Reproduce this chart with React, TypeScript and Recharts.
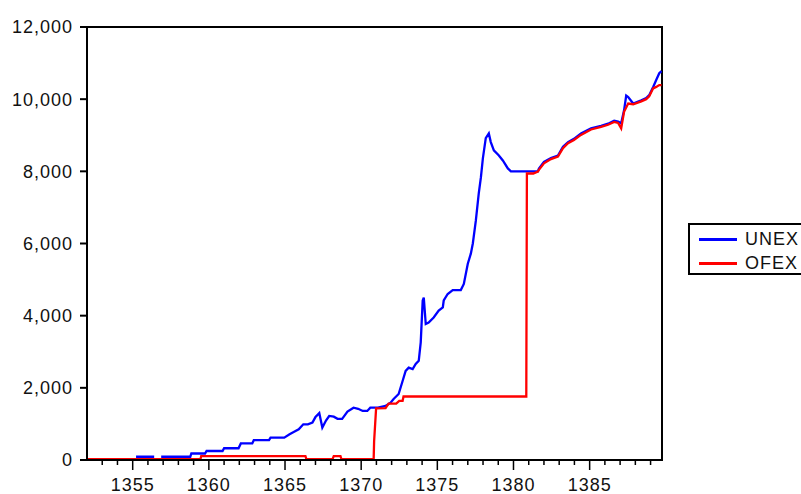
import React from 'react';
import { LineChart, Line, XAxis, YAxis, ReferenceArea, Legend } from 'recharts';

const unexYears = [
  1355.22, 1356.41, 1356.6, 1356.87, 1358.78, 1358.85, 1359.75, 1359.85, 1360.9, 1361.0,
  1361.95, 1362.1, 1362.85, 1362.95, 1363.95, 1364.05, 1364.95, 1365.3, 1365.6, 1365.9,
  1366.2, 1366.5, 1366.8, 1367.0, 1367.25, 1367.45, 1367.7, 1367.9, 1368.2, 1368.45,
  1368.75, 1369.1, 1369.5, 1369.8, 1370.1, 1370.4, 1370.6, 1371.1, 1371.6, 1371.93,
  1372.13, 1372.46, 1372.72, 1372.92, 1373.12, 1373.38, 1373.58, 1373.78, 1373.91, 1374.04,
  1374.11, 1374.24, 1374.43, 1374.76, 1375.09, 1375.36, 1375.42, 1375.68, 1376.01, 1376.54,
  1376.74, 1377.0, 1377.2, 1377.33, 1377.53, 1377.72, 1377.86, 1377.99, 1378.18, 1378.38,
  1378.51, 1378.71, 1379.04, 1379.3, 1379.63, 1379.83, 1381.6, 1381.67, 1382.0, 1382.46,
  1382.92, 1383.25, 1383.58, 1383.97, 1384.43, 1385.09, 1385.75, 1386.21, 1386.61, 1386.87,
  1387.07, 1387.26, 1387.4, 1387.53, 1387.86, 1388.39, 1388.71, 1388.91, 1389.17, 1389.37,
  1389.57, 1389.72,
];
const unexValues: (number | null)[] = [
  90, 90, null, 90, 90, 180, 180, 250, 250, 325,
  325, 460, 460, 550, 550, 620, 620, 713, 780, 850,
  990, 990, 1040, 1190, 1300, 900, 1100, 1220, 1200, 1140,
  1140, 1340, 1450, 1420, 1360, 1360, 1450, 1450, 1500, 1590,
  1690, 1830, 2190, 2470, 2560, 2520, 2660, 2750, 3260, 4420,
  4500, 3770, 3810, 3950, 4140, 4230, 4420, 4600, 4710, 4710,
  4880, 5440, 5720, 6000, 6640, 7390, 7830, 8360, 8920, 9050,
  8810, 8580, 8440, 8300, 8080, 8000, 8000, 8080, 8260, 8370,
  8440, 8680, 8810, 8900, 9050, 9190, 9260, 9320, 9400, 9380,
  9330, 9690, 10100, 10060, 9880, 9970, 10030, 10110, 10340, 10530,
  10720, 10780,
];

const ofexYears = [
  1352.0, 1359.45, 1359.5, 1366.34, 1366.4, 1368.12, 1368.2, 1368.64, 1368.7, 1370.82,
  1370.85, 1370.98, 1371.6, 1371.8, 1372.3, 1372.5, 1372.72, 1372.78, 1380.84, 1380.88,
  1381.3, 1381.6, 1381.67, 1382.0, 1382.46, 1382.92, 1383.25, 1383.58, 1383.97, 1384.43,
  1385.09, 1385.75, 1386.21, 1386.61, 1386.87, 1387.07, 1387.26, 1387.53, 1387.86, 1388.39,
  1388.71, 1388.91, 1389.17, 1389.37, 1389.57, 1389.72,
];
const ofexValues = [
  25, 25, 110, 110, 25, 25, 110, 110, 25, 25,
  520, 1430, 1440, 1565, 1565, 1640, 1640, 1760, 1760, 7940,
  7940, 7990, 8040, 8220, 8340, 8410, 8640, 8780, 8870, 9010,
  9160, 9230, 9290, 9370, 9340, 9190, 9650, 9880, 9860, 9940,
  10000, 10080, 10300, 10340, 10390, 10390,
];

const xTicks = [
  1353, 1354, 1355, 1356, 1357, 1358, 1359, 1360, 1361, 1362, 1363, 1364, 1365, 1366,
  1367, 1368, 1369, 1370, 1371, 1372, 1373, 1374, 1375, 1376, 1377, 1378, 1379, 1380,
  1381, 1382, 1383, 1384, 1385, 1386, 1387, 1388, 1389,
];
const yTicks = [0, 2000, 4000, 6000, 8000, 10000, 12000];

const unexData = unexYears.map((t, i) => ({ t, v: unexValues[i] }));
const ofexData = ofexYears.map((t, i) => ({ t, v: ofexValues[i] }));

const FONT = '"Liberation Sans", Arial, sans-serif';

const XTick = (props: any) => {
  const { x, y, payload } = props;
  const v = payload.value as number;
  const major = v % 5 === 0;
  return (
    <g>
      <line x1={x} x2={x} y1={y} y2={y + (major ? 10 : 5)} stroke="#000" strokeWidth={1.5} />
      {major && (
        <text x={x} y={y + 31} textAnchor="middle" fontSize={18} letterSpacing={1} fontFamily={FONT} fill="#111">
          {v}
        </text>
      )}
    </g>
  );
};

const YTick = (props: any) => {
  const { x, y, payload } = props;
  const v = payload.value as number;
  return (
    <text x={x + 1} y={y} dy="0.36em" textAnchor="end" fontSize={18} letterSpacing={1} fontFamily={FONT} fill="#111">
      {v.toLocaleString('en-US')}
    </text>
  );
};

const LegendBox = () => (
  <div
    style={{
      position: 'relative',
      width: 160,
      height: 52,
      border: '2px solid #000',
      borderRight: 'none',
      background: '#fff',
      fontFamily: FONT,
      fontSize: 18,
      letterSpacing: 1,
      color: '#111',
      boxSizing: 'border-box',
    }}
  >
    <div style={{ position: 'absolute', left: 9, top: 13, width: 38, height: 2.5, background: '#0000ff' }} />
    <div style={{ position: 'absolute', left: 55, top: 4, lineHeight: '20px' }}>UNEX</div>
    <div style={{ position: 'absolute', left: 9, top: 37, width: 38, height: 2.5, background: '#ff0000' }} />
    <div style={{ position: 'absolute', left: 55, top: 28, lineHeight: '20px' }}>OFEX</div>
  </div>
);

export default function App() {
  return (
    <div style={{ position: 'absolute', left: 0, top: 0, width: 801, height: 494, background: '#fff', overflow: 'hidden' }}>
      <LineChart width={801} height={494} margin={{ top: 27, right: 139, left: 0, bottom: 0 }}>
        <XAxis
          dataKey="t"
          type="number"
          domain={[1352, 1389.75]}
          ticks={xTicks}
          interval={0}
          allowDataOverflow
          height={34}
          tickSize={0}
          tickMargin={0}
          tickLine={false}
          axisLine={{ stroke: '#000', strokeWidth: 2 }}
          tick={<XTick />}
        />
        <YAxis
          type="number"
          domain={[0, 12000]}
          ticks={yTicks}
          width={87}
          tickSize={7}
          tickMargin={8}
          interval={0}
          axisLine={{ stroke: '#000', strokeWidth: 2 }}
          tickLine={{ stroke: '#000', strokeWidth: 2 }}
          tick={<YTick />}
        />
        <Line
          data={unexData}
          dataKey="v"
          name="UNEX"
          type="linear"
          stroke="#0000ff"
          strokeWidth={2.3}
          dot={false}
          connectNulls={false}
          isAnimationActive={false}
        />
        <Line
          data={ofexData}
          dataKey="v"
          name="OFEX"
          type="linear"
          stroke="#ff0000"
          strokeWidth={2.3}
          dot={false}
          isAnimationActive={false}
        />
        <ReferenceArea
          x1={1352}
          x2={1389.75}
          y1={0}
          y2={12000}
          fill="none"
          fillOpacity={0}
          stroke="#000"
          strokeWidth={2}
          ifOverflow="visible"
        />
        <Legend
          layout="horizontal"
          align="center"
          verticalAlign="middle"
          content={<LegendBox />}
          wrapperStyle={{ position: 'absolute', left: 688, top: 223, width: 160, height: 52 }}
        />
      </LineChart>
    </div>
  );
}
